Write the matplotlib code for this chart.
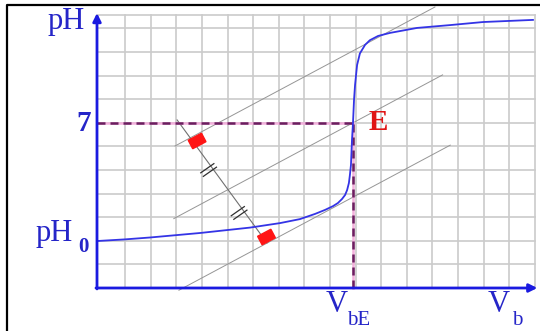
import numpy as np
import matplotlib
matplotlib.use('Agg')
import matplotlib.pyplot as plt
from matplotlib.patches import Polygon

# titration curve pH = f(Vb)
vb = [0.0, 1.09, 2.07, 4.02, 5.98, 7.15, 7.93, 8.52, 8.91, 9.22, 9.41, 9.57,
      9.69, 9.77, 9.84, 9.88, 9.92, 9.96, 10.0, 10.04, 10.08, 10.12, 10.16,
      10.27, 10.47, 10.66, 10.98, 11.45, 12.5, 13.79, 15.08, 17.03]
ph = [1.99, 2.06, 2.14, 2.33, 2.56, 2.75, 2.92, 3.14, 3.31, 3.47, 3.6, 3.77,
      3.94, 4.15, 4.45, 4.8, 5.21, 6.27, 7.0, 7.97, 8.6, 9.03, 9.45,
      9.94, 10.3, 10.5, 10.68, 10.81, 11.02, 11.14, 11.27, 11.36]

vb_E = 10.0
ph_E = 7.0
ph_0 = 2.0

# three parallel tangents: offset from the line through E, and x extent
tan_slope = 0.58
tan_offset = [3.05, 0.0, -3.15]
tan_x0 = [3.05, 3.0, 3.2]
tan_x1 = [13.2, 13.5, 13.8]

# perpendicular segment, its right-angle marks and the equal-length ticks
perp_x = [3.13, 6.64]
perp_y = [7.12, 1.91]
mark_x = [3.91, 6.62]
mark_y = [6.23, 2.16]
tick_x = [4.36, 5.55]
tick_y = [5.0, 3.18]

# pixels per data unit (figure is 540 x 331 px)
SX, SY = 25.6, 23.6

blue = '#1a1ae0'
txt_blue = '#2525c8'

fig = plt.figure(figsize=(5.40, 3.31), dpi=100)
ax = fig.add_axes([0, 0, 1, 1])
ax.set_xlim(-97 / SX, 443 / SX)
ax.set_ylim(-43 / SY, 288 / SY)
ax.axis('off')

# graph paper
top = 11.57
right = 17.1
for gx in np.arange(1.1, right + 0.01, 1.0):
    ax.plot([gx, gx], [0, top], color='#cbcbcb', lw=1.2, zorder=1)
for gy in list(range(1, 12)) + [top]:
    ax.plot([0, right], [gy, gy], color='#cbcbcb', lw=1.2, zorder=1)

# tangents
for off, a, b in zip(tan_offset, tan_x0, tan_x1):
    xs = np.array([a, b])
    ax.plot(xs, ph_E + off + tan_slope * (xs - vb_E), color='#959595', lw=0.7, zorder=2)

ax.plot(perp_x, perp_y, color='#707070', lw=0.8, zorder=3)

# "//" marks on the perpendicular
ang = np.deg2rad(35)
ux, uy = np.cos(ang) * 8, np.sin(ang) * 8
d = np.array([perp_x[1] - perp_x[0], perp_y[1] - perp_y[0]])
d_px = np.array([d[0] * SX, d[1] * SY])
d_px = d_px / np.hypot(*d_px) * 2.2
for cx, cy in zip(tick_x, tick_y):
    for s in (-1, 1):
        ox, oy = cx + s * d_px[0] / SX, cy + s * d_px[1] / SY
        ax.plot([ox - ux / SX, ox + ux / SX], [oy - uy / SY, oy + uy / SY],
                color='#303030', lw=0.9, zorder=3)

# red right-angle marks
rot = np.deg2rad(28)
w, h = 7.5, 4.8
corners = np.array([[-w, -h], [w, -h], [w, h], [-w, h]])
R = np.array([[np.cos(rot), -np.sin(rot)], [np.sin(rot), np.cos(rot)]])
for cx, cy in zip(mark_x, mark_y):
    c = corners @ R.T
    pts = np.column_stack([cx + c[:, 0] / SX, cy + c[:, 1] / SY])
    ax.add_patch(Polygon(pts, closed=True, color='#ff1515', zorder=4))

# dashed guides to E
for xs, ys in (([0, vb_E], [ph_E, ph_E]), ([vb_E, vb_E], [0, ph_E])):
    ax.plot(xs, ys, color='#f3b0dc', lw=1.8, zorder=5)
    ax.plot(xs, ys, color='#6a1f5f', lw=1.8, dashes=(3.2, 2.0), zorder=5)

# curve
ax.plot(vb, ph, color='#3434e6', lw=1.3, zorder=6, solid_joinstyle='round')

# axes with arrows
arrow = dict(arrowstyle='-|>', color=blue, lw=2.0, mutation_scale=12, shrinkA=0, shrinkB=0)
ax.annotate('', xy=(0, 11.65), xytext=(0, -0.04), arrowprops=arrow, zorder=7)
ax.annotate('', xy=(17.2, 0), xytext=(-0.04, 0), arrowprops=arrow, zorder=7)

# outer frame
ax.plot([7 / 540, 7 / 540, 1], [0, 1 - 5 / 331, 1 - 5 / 331], color='black', lw=1.6,
        transform=ax.transAxes, clip_on=False, zorder=8)

serif = 'Liberation Serif'
ax.text(-1.21, 11.3, 'pH', fontsize=22, family=serif, color=txt_blue, ha='center', va='center')
ax.text(-0.25, 6.95, '7', fontsize=21, family=serif, weight='bold', color=txt_blue,
        ha='right', va='center')
ax.text(-1.66, 2.29, 'pH', fontsize=22, family=serif, color=txt_blue, ha='center', va='center')
ax.text(-0.52, 1.72, '0', fontsize=15, family=serif, weight='bold', color=txt_blue,
        ha='center', va='center')
ax.text(10.98, 7.03, 'E', fontsize=21, family=serif, weight='bold', color='#e01515',
        ha='center', va='center')
ax.text(9.375, -0.72, 'V', fontsize=22, family=serif, color=txt_blue, ha='center', va='center')
ax.text(10.2, -1.36, 'bE', fontsize=15, family=serif, color=txt_blue, ha='center', va='center')
ax.text(15.68, -0.72, 'V', fontsize=22, family=serif, color=txt_blue, ha='center', va='center')
ax.text(16.4, -1.36, 'b', fontsize=15, family=serif, color=txt_blue, ha='center', va='center')

fig.savefig('out.png', dpi=100)
